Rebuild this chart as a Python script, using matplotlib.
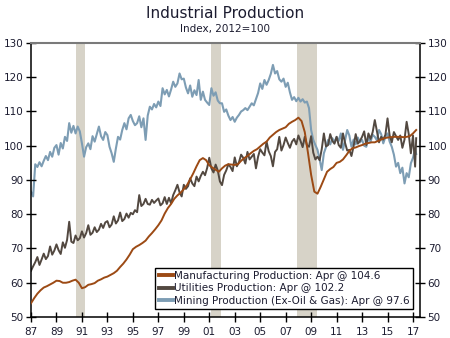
import numpy as np
import matplotlib
matplotlib.use("Agg")
import matplotlib.pyplot as plt

# Index, 2012=100. Manufacturing quarterly, the other two every other month.
manuf_start = 1987
manufacturing = [
    54.0, 55.5, 56.8, 57.8,   58.6, 59.0, 59.5, 60.0,   60.6, 60.5, 60.0, 60.0,
    60.2, 60.6, 60.9, 60.0,   58.4, 58.7, 59.4, 59.6,   59.9, 60.6, 61.0, 61.5,
    61.8, 62.3, 62.8, 63.5,   64.6, 65.6, 66.8, 68.2,   69.8, 70.5, 71.0, 71.6,
    72.3, 73.5, 74.5, 75.6,   76.8, 78.2, 80.2, 81.8,   83.0, 84.5, 85.5, 86.3,
    87.3, 88.5, 90.2, 92.0,   94.0, 95.8, 96.4, 95.8,   94.3, 93.6, 93.0, 92.4,
    93.4, 94.2, 94.6, 94.5,   94.4, 94.6, 95.6, 96.4,   97.0, 97.8, 98.5, 99.0,
    99.8, 100.6, 101.2, 102.4, 103.2, 104.0, 104.6, 105.0, 105.4, 106.4, 107.0, 107.5,
    108.2, 107.2, 104.0, 98.0, 91.5, 86.6, 86.0, 88.0,  90.2, 92.4, 93.2, 93.8,
    95.0, 95.3, 96.0, 97.2,   98.5, 99.3, 99.5, 99.9,   100.2, 100.6, 100.8, 101.0,
    101.0, 101.4, 101.8, 102.2, 102.4, 102.5, 102.6, 102.6, 102.6, 102.5, 102.6, 102.8,
    103.6, 104.6,
]

utilities = [
    63.5, 64.8, 66.0, 67.5, 65.2, 66.8,   68.5, 66.9, 67.8, 70.6, 68.2, 69.4,
    71.2, 69.5, 68.4, 71.8, 70.2, 72.5,   77.8, 72.0, 71.6, 73.8, 72.4, 73.0,
    75.0, 73.2, 74.5, 76.8, 74.0, 74.6,   76.2, 74.8, 75.5, 77.2, 76.0, 77.6,
    78.0, 76.2, 77.0, 79.4, 77.3, 78.2,   80.5, 78.0, 78.6, 80.2, 79.0, 80.4,
    80.0, 81.2, 80.6, 85.6, 82.4, 83.0,   84.5, 83.0, 82.8, 84.2, 83.3, 84.0,
    84.6, 82.6, 83.2, 85.0, 83.0, 84.8,   83.2, 85.6, 87.0, 88.6, 86.4, 85.2,
    88.6, 87.4, 88.2, 90.5, 89.0, 88.2,   91.0, 89.6, 91.2, 92.4, 91.4, 93.5,
    96.5, 93.4, 92.2, 94.5, 92.8, 89.6,   88.5, 91.5, 92.8, 94.6, 93.8, 92.6,
    96.6, 94.0, 95.2, 97.4, 96.5, 94.8,   98.2, 96.0, 96.8, 97.6, 93.4, 96.8,
    99.0, 98.0, 97.2, 101.2, 98.4, 97.0,  94.0, 98.2, 99.0, 102.6, 98.6, 100.2,
    102.4, 100.8, 99.4, 101.2, 102.0, 100.4, 103.0, 101.4, 99.6, 102.6, 100.2, 99.7,
    102.8, 98.0, 96.0, 96.8, 95.8, 99.0,  103.6, 99.8, 100.2, 103.4, 101.4, 100.6,
    102.6, 100.2, 99.4, 103.6, 100.8, 98.6, 98.8, 97.0, 99.8, 103.4, 100.6, 101.4,
    102.6, 104.2, 100.2, 103.6, 102.0, 104.0, 107.5, 104.2, 101.0, 102.6, 101.8, 103.2,
    108.0, 103.0, 101.0, 104.0, 102.8, 101.7, 103.0, 99.4, 101.8, 107.0, 103.4, 97.8,
    103.0, 93.9, 102.2,
]

mining = [
    86.6, 85.2, 94.6, 93.8, 95.2, 94.0,   95.6, 97.0, 95.8, 98.2, 96.8, 99.4,
    100.2, 97.4, 100.8, 99.2, 102.6, 101.4, 106.6, 103.8, 105.8, 103.6, 105.6, 104.2,
    100.7, 96.8, 99.6, 100.7, 99.0, 102.8, 101.2, 103.4, 105.6, 102.8, 101.7, 104.0,
    103.1, 99.7, 97.8, 95.3, 99.2, 102.6, 101.8, 104.6, 106.6, 104.8, 108.0, 109.0,
    107.2, 106.0, 106.6, 108.6, 105.4, 108.0, 101.7, 108.8, 111.4, 110.6, 112.2, 111.2,
    112.9, 111.6, 116.8, 115.0, 116.3, 114.4, 116.4, 118.7, 117.2, 118.2, 121.1, 119.4,
    119.6, 117.0, 115.3, 117.6, 114.3, 116.2, 114.8, 119.2, 113.4, 115.8, 113.4, 112.6,
    111.9, 116.8, 114.6, 115.6, 113.2, 112.4, 112.4, 109.9, 110.6, 108.8, 107.5, 108.4,
    107.0, 108.2, 109.0, 110.0, 110.4, 111.0, 110.4, 111.4, 112.4, 111.8, 113.6, 115.4,
    118.2, 116.6, 119.2, 117.8, 119.2, 121.0, 123.6, 121.1, 121.8, 119.4, 118.7, 119.6,
    117.2, 118.4, 115.6, 113.4, 114.2, 113.0, 114.0, 112.9, 113.6, 112.6, 112.9, 111.0,
    104.6, 101.7, 100.2, 98.8, 96.0, 92.9,  97.8, 99.6, 101.7, 100.4, 102.2, 101.0,
    102.6, 101.4, 103.6, 98.8, 101.6, 104.6, 103.0, 99.7, 101.8, 100.4, 102.4, 101.0,
    101.7, 100.0, 99.7, 102.4, 101.2, 103.2, 102.6, 101.6, 104.6, 103.4, 100.7, 102.6,
    103.6, 101.2, 99.7, 97.4, 93.9, 95.0,   92.0, 93.6, 89.0, 92.0, 90.8, 94.9,
    96.5, 99.0, 97.6,
]

recessions = [(1990.54, 1991.21), (2001.17, 2001.90), (2007.92, 2009.50)]

labels = ["Manufacturing Production: Apr @ 104.6",
          "Utilities Production: Apr @ 102.2",
          "Mining Production (Ex-Oil & Gas): Apr @ 97.6"]
colors = ["#9C4A14", "#524840", "#7D9DB4"]
text_color = "#1C1C30"

# x positions in decimal years
t_q = manuf_start + np.arange(len(manufacturing) - 1) / 4.0
t_q = np.append(t_q, 2017 + 3 / 12)
t_b = 1987 + np.arange(len(utilities) - 1) / 6.0
t_b = np.append(t_b, 2017 + 3 / 12)

plt.rcParams['font.family'] = ['DejaVu Sans']
fig = plt.figure(figsize=(4.5, 3.38), dpi=100)
ax = fig.add_axes([31 / 450, 1 - 317 / 338, 389 / 450, 274 / 338])

for a, b in recessions:
    ax.axvspan(a, b, color="#D7D3C8", lw=0, zorder=0)

ax.plot(t_q, manufacturing, color=colors[0], lw=1.4, label=labels[0], zorder=3)
ax.plot(t_b, utilities, color=colors[1], lw=1.4, label=labels[1], zorder=2)
ax.plot(t_b, mining, color=colors[2], lw=1.5, label=labels[2], zorder=1)

ax.set_xlim(1987, 2017.55)
ax.set_ylim(50, 130)
years = np.arange(1987, 2018, 2)
ax.set_xticks(years)
ax.set_xticklabels(["%02d" % (y % 100) for y in years])
ax.set_yticks(np.arange(50, 131, 10))
ax.tick_params(axis='both', direction='inout', length=7, width=1, labelsize=7.5,
               color='black', labelcolor=text_color, pad=2)
ax.tick_params(axis='y', right=True, labelright=True)
ax.tick_params(axis='x', pad=4)

for s in ['left', 'right', 'bottom']:
    ax.spines[s].set_linewidth(1.1)
ax.spines['top'].set_color('#7A7A7A')
ax.spines['top'].set_linewidth(1.5)

leg = ax.legend(loc='lower right', bbox_to_anchor=(0.982, 0.029), fontsize=7.5,
                frameon=True, fancybox=False, edgecolor='black', framealpha=1,
                handlelength=1.4, handletextpad=0.1, borderpad=0.3,
                labelspacing=0.25, borderaxespad=0)
leg.get_frame().set_linewidth(1.0)
for line in leg.get_lines():
    line.set_linewidth(2.8)
for txt in leg.get_texts():
    txt.set_color(text_color)

fig.text(0.5, 1 - 14 / 338, "Industrial Production", ha='center', va='center',
         fontsize=11, color=text_color)
fig.text(0.5, 1 - 29 / 338, "Index, 2012=100", ha='center', va='center',
         fontsize=7.5, color=text_color)

fig.savefig("out.png", dpi=100)
